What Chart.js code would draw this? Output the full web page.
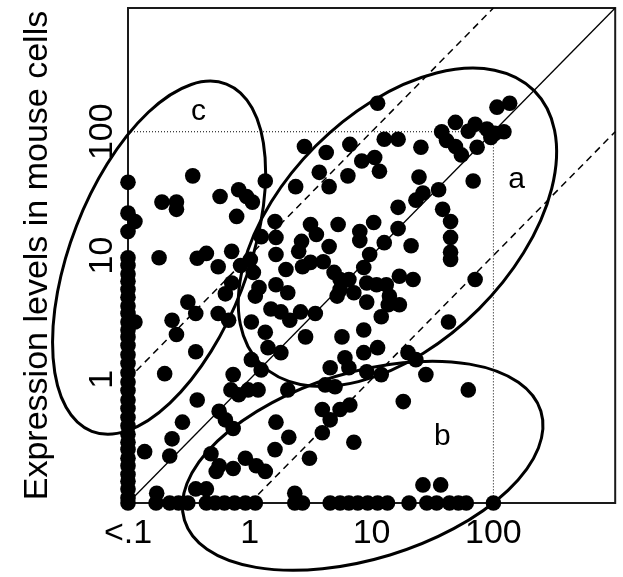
<!DOCTYPE html>
<html>
<head>
<meta charset="utf-8">
<script src="https://cdn.jsdelivr.net/npm/chart.js@4/dist/chart.umd.min.js"></script>
<style>
  html, body { margin: 0; padding: 0; background: #fff; }
  canvas { display: block; }
</style>
</head>
<body>
<canvas id="chart" width="623" height="577"></canvas>
<script>
// Expression levels: human cells on x, mouse cells on y.
// Anything below 0.1 is drawn on the axis ("<.1").
const xTickValues = [0.1, 1, 10, 100];
const yTickValues = [1, 10, 100];

// Genes found in mouse cells only (human <.1) -> mouse level
const mouseOnly = [39, 22, 15.6, 9.6, 8.3, 7.1, 6.2, 5.3, 4.6, 3.9, 3.4, 2.9, 2.5, 2.2, 1.87, 1.58,
  1.34, 1.13, 0.95, 0.81, 0.68, 0.58, 0.49, 0.42, 0.36, 0.31, 0.27, 0.23, 0.20, 0.17, 0.15, 0.13, 0.11, 0.1];

// Genes found in human cells only (mouse <.1) -> human level
const humanOnly = [0.17, 0.22, 0.26, 0.31, 0.44, 0.52, 0.62, 0.75, 0.92, 1.11, 2.34, 2.71, 4.57, 5.51,
  6.51, 7.71, 9.29, 11.2, 13.5, 20.3, 28.4, 34.2, 43.6, 51.6, 59.9, 100];

// Genes found in both, [human, mouse]
const topPairs = [[11.2, 170], [2.81, 76], [4.24, 68], [6.63, 79], [12.7, 87], [16.5, 87], [25.4, 75],
  [8.3, 58], [10.6, 62], [3.72, 47], [11.6, 48], [6.39, 44], [37.6, 100], [41.2, 85], [48.8, 76],
  [48.8, 119], [54.6, 65], [70.8, 115], [62.2, 101], [88.5, 105], [103, 97], [122, 100], [95.4, 90],
  [73.5, 75], [107, 158], [136, 170]];
const middlePairs = [[4.48, 36], [2.38, 36], [24.5, 43], [26.4, 32], [23.1, 28], [35.5, 34], [38.3, 23.6],
  [16.5, 24.5], [44.5, 18.8], [44.5, 14.0], [44.5, 10.6], [44.5, 9.3], [21.1, 12.0], [16.5, 16.5],
  [12.7, 12.7], [10.4, 18.5], [8.0, 15.6], [8.0, 13.2], [5.31, 17.8], [3.15, 17.8], [3.52, 14.8],
  [2.66, 13.0], [2.52, 10.8], [4.48, 11.8], [1.98, 7.7], [2.71, 8.1], [3.15, 8.8], [4.01, 8.9],
  [9.64, 10.2], [8.62, 8.0], [4.92, 7.3], [5.51, 6.4], [6.51, 6.4], [9.12, 6.0], [11.0, 5.8],
  [13.2, 5.8], [16.9, 6.8], [21.9, 6.4], [5.51, 5.3], [7.15, 5.0], [5.21, 4.7], [2.05, 5.0],
  [9.12, 4.2], [14.0, 4.7], [13.7, 4.0], [16.9, 4.0], [12.0, 3.2], [2.61, 3.5], [3.45, 3.4],
  [2.13, 3.0], [2.87, 2.2], [5.71, 2.2], [8.62, 2.5], [42.8, 2.9], [68.2, 40], [70.8, 6.4]];
const leftPairs = [[0.34, 44], [1.34, 40], [0.19, 27], [0.25, 27], [0.25, 23.6], [0.57, 30], [0.81, 34],
  [0.94, 30], [1.05, 27], [0.78, 20.7], [1.61, 18.8], [1.24, 14.2], [1.64, 14.0], [1.64, 10.2],
  [0.18, 9.6], [0.37, 9.5], [0.44, 10.4], [0.71, 10.8], [0.55, 8.1], [0.84, 8.3], [1.01, 9.3],
  [1.07, 7.3], [0.71, 6.0], [0.63, 4.9], [1.19, 5.5], [1.11, 4.7], [1.64, 5.8], [0.31, 4.2],
  [0.36, 3.4], [0.55, 3.4], [0.67, 3.0], [1.03, 2.9], [0.23, 3.0], [0.25, 2.3], [1.34, 2.4],
  [1.49, 3.7], [1.80, 3.5], [0.114, 18.8], [0.114, 2.9]];
const lowPairs = [[0.36, 1.67], [0.20, 1.11], [0.37, 0.68], [0.28, 0.45], [0.23, 0.33], [0.137, 0.26],
  [0.22, 0.24], [0.70, 0.82], [0.81, 0.75], [0.97, 0.82], [1.17, 0.82], [0.73, 1.09], [0.56, 0.55],
  [0.63, 0.47], [0.73, 0.40], [0.48, 0.25], [0.56, 0.20], [0.53, 0.18], [0.73, 0.19], [0.92, 0.23],
  [1.13, 0.20], [1.34, 0.18], [0.36, 0.13], [0.44, 0.13], [0.172, 0.12], [1.03, 1.44], [1.24, 1.19],
  [1.41, 1.80], [1.80, 1.64], [1.64, 0.45], [2.05, 0.82], [2.09, 0.34], [1.61, 0.27],
  [8.62, 1.64], [11.2, 1.80], [4.57, 1.24], [6.04, 1.49], [6.51, 1.24], [9.12, 1.15], [12.0, 1.09],
  [19.9, 1.64], [23.1, 1.44], [27.9, 1.09], [4.16, 0.90], [5.01, 0.87], [18.2, 0.66], [3.94, 0.57],
  [5.51, 0.57], [6.63, 0.62], [4.57, 0.47], [3.94, 0.37], [7.15, 0.31], [3.09, 0.23], [26.4, 0.14],
  [36.9, 0.14], [2.34, 0.12], [62.2, 0.82]];

// Ellipses a, b, c: centre (data units), semi-axes in decades, tilt in degrees
const groupNames = ['a', 'b', 'c'];
const groupCentreX = [16.3, 8.45, 0.18];
const groupCentreY = [16.9, 0.20, 9.6];
const groupMajor = [1.587, 1.530, 1.529];
const groupMinor = [0.947, 0.766, 0.727];
const groupTilt = [45, 17, 68.8];
const groupLabelX = [155, 38, 0.38];
const groupLabelY = [41, 0.34, 144];

const FONT = 'Arial, "Liberation Sans", sans-serif';

const points = [
  ...mouseOnly.map(v => ({ x: 0.1, y: v })),
  ...humanOnly.map(v => ({ x: v, y: 0.1 })),
  ...[...topPairs, ...middlePairs, ...leftPairs, ...lowPairs].map(([h, m]) => ({ x: h, y: m })),
];

const lineSet = (data, width, dash) => ({
  data, showLine: true, pointRadius: 0, borderColor: '#000', borderWidth: width,
  borderDash: dash, fill: false, clip: false, order: 2,
});

const overlay = {
  id: 'overlay',
  beforeDatasetsDraw(chart) {
    const { ctx, chartArea: a } = chart;
    ctx.save();
    ctx.strokeStyle = '#1a1a1a';
    ctx.lineWidth = 2;
    ctx.strokeRect(a.left, a.top, a.right - a.left, a.bottom - a.top);
    ctx.restore();
  },
  afterDatasetsDraw(chart) {
    const { ctx, scales: { x, y } } = chart;
    const dec = x.getPixelForValue(10) - x.getPixelForValue(1);
    ctx.save();
    ctx.strokeStyle = '#000';
    ctx.lineWidth = 3;
    groupNames.forEach((name, i) => {
      ctx.beginPath();
      ctx.ellipse(x.getPixelForValue(groupCentreX[i]), y.getPixelForValue(groupCentreY[i]),
        groupMajor[i] * dec, groupMinor[i] * dec, -groupTilt[i] * Math.PI / 180, 0, 2 * Math.PI);
      ctx.stroke();
    });
    ctx.fillStyle = '#000';
    ctx.font = '30px ' + FONT;
    ctx.textAlign = 'center';
    ctx.textBaseline = 'middle';
    groupNames.forEach((name, i) => {
      ctx.fillText(name, x.getPixelForValue(groupLabelX[i]), y.getPixelForValue(groupLabelY[i]));
    });
    // rotated y tick labels
    ctx.font = '34px ' + FONT;
    ctx.textBaseline = 'alphabetic';
    for (const v of yTickValues) {
      ctx.save();
      ctx.translate(112, y.getPixelForValue(v));
      ctx.rotate(-Math.PI / 2);
      ctx.fillText(String(v), 0, 0);
      ctx.restore();
    }
    ctx.restore();
  },
};

new Chart(document.getElementById('chart'), {
  type: 'scatter',
  data: {
    datasets: [
      {
        data: points, pointRadius: 7.8, pointHoverRadius: 7.8, pointBackgroundColor: '#000',
        pointBorderWidth: 0, borderColor: '#000', clip: false, order: 1,
      },
      lineSet([{ x: 0.1, y: 0.1 }, { x: 1000, y: 1000 }], 1.3, []),
      lineSet([{ x: 0.1, y: 1 }, { x: 100, y: 1000 }], 1.5, [7, 5]),
      lineSet([{ x: 1, y: 0.1 }, { x: 1000, y: 100 }], 1.5, [7, 5]),
      lineSet([{ x: 0.1, y: 100 }, { x: 100, y: 100 }, { x: 100, y: 0.1 }], 1, [1, 2]),
    ],
  },
  options: {
    responsive: false,
    devicePixelRatio: 1,
    animation: false,
    layout: { padding: { top: 8, right: 1, left: 0, bottom: 0 } },
    plugins: { legend: { display: false }, tooltip: { enabled: false } },
    scales: {
      x: {
        type: 'logarithmic', min: 0.1, max: 1000,
        grid: { display: false, drawTicks: false },
        border: { display: false },
        afterBuildTicks: s => { s.ticks = xTickValues.map(v => ({ value: v })); },
        afterFit: s => { s.height = 74; },
        ticks: {
          autoSkip: false, maxRotation: 0, minRotation: 0, padding: 10, color: '#000',
          font: { size: 34, family: FONT },
          callback: v => (v === 0.1 ? '<.1' : String(v)),
        },
      },
      y: {
        type: 'logarithmic', min: 0.1, max: 1000,
        grid: { display: false, drawTicks: false },
        border: { display: false },
        ticks: { display: false },
        afterFit: s => { s.width = 128; },
        title: {
          display: true, text: 'Expression levels in mouse cells', color: '#000',
          font: { size: 34, family: FONT }, padding: { top: 17, bottom: 0 },
        },
      },
    },
  },
  plugins: [overlay],
});
</script>
</body>
</html>
